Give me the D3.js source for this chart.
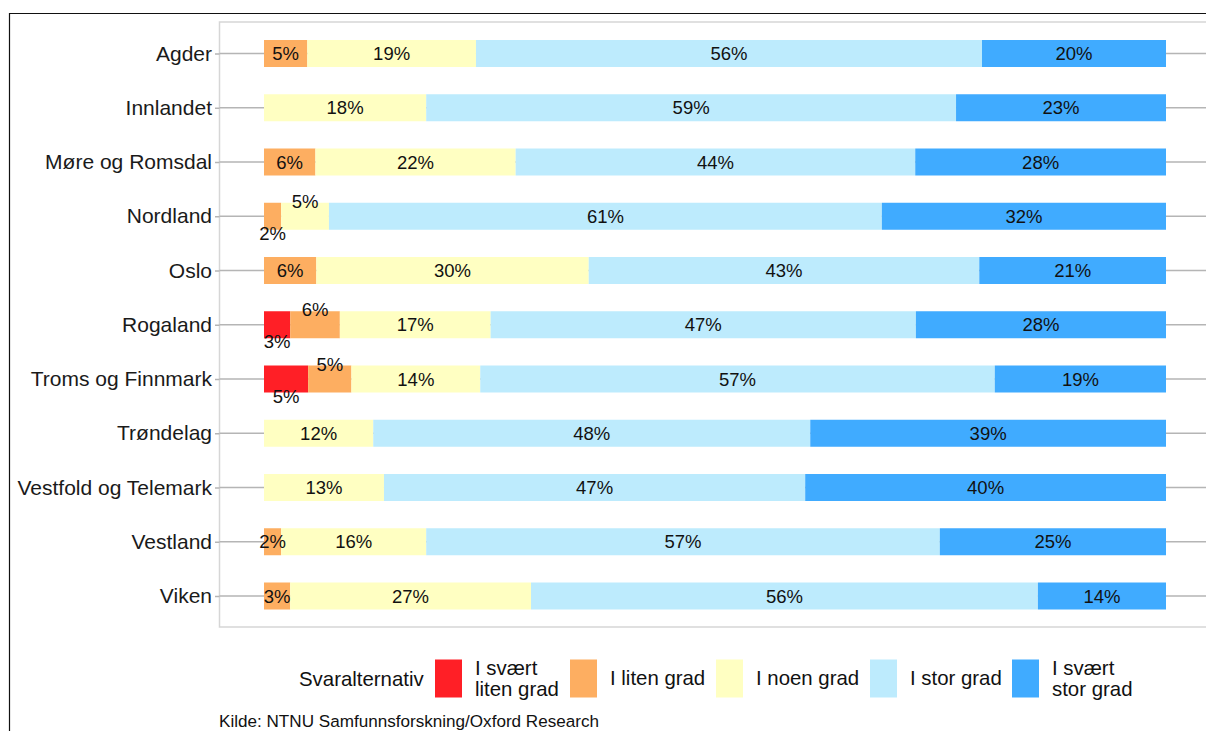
<!DOCTYPE html>
<html><head><meta charset="utf-8">
<script src="https://cdn.jsdelivr.net/npm/d3@7"></script>
<style>html,body{margin:0;background:#fff;overflow:hidden}svg{display:block;font-family:"Liberation Sans",Arial,sans-serif}</style>
</head><body><svg id="c" width="1206" height="731"></svg>
<script>
const categories = ["Agder","Innlandet","Møre og Romsdal","Nordland","Oslo","Rogaland","Troms og Finnmark","Trøndelag","Vestfold og Telemark","Vestland","Viken"];
const seriesNames = ["I svært liten grad","I liten grad","I noen grad","I stor grad","I svært stor grad"];
const legendLabels = [["I svært","liten grad"],["I liten grad"],["I noen grad"],["I stor grad"],["I svært","stor grad"]];
const vSvaertLiten = [0,0,0,0,0,2.9,4.9,0,0,0,0];
const vLiten      = [4.8,0,5.7,1.9,5.8,5.5,4.8,0,0,1.9,2.9];
const vNoen       = [18.7,18.0,22.2,5.3,30.2,16.7,14.3,12.1,13.3,16.1,26.7];
const vStor       = [56.1,58.8,44.3,61.3,43.3,47.1,57.1,48.4,46.7,57.0,56.2];
const vSvaertStor = [20.4,23.3,27.8,31.5,20.7,27.7,19.0,39.4,40.0,25.1,14.2];
const colors = ["#ff1f26","#fdae61","#ffffc2","#bdebfd","#40abff"];
const legendTitle = "Svaralternativ";
const caption = "Kilde: NTNU Samfunnsforskning/Oxford Research";

const svg = d3.select("#c");
const allVals = [vSvaertLiten,vLiten,vNoen,vStor,vSvaertStor];
const rows = categories.map((c,i)=>{const o={cat:c};seriesNames.forEach((s,k)=>o[s]=allVals[k][i]);return o;});
const stack = d3.stack().keys(seriesNames).offset(d3.stackOffsetExpand)(rows);

// outer border (left and top edges only visible)
svg.append("path").attr("d","M9.5,731V13.5H1206").attr("fill","none").attr("stroke","#111").attr("stroke-width",1.2);

const panel = {left:219.5, top:22, bottom:627, right:1206};
const x = d3.scaleLinear().domain([0,1]).range([264,1166]);
const y = d3.scalePoint().domain(categories).range([53.5,596]);
const barH = 27;

svg.append("path").attr("d",`M${panel.right},${panel.top}H${panel.left}V${panel.bottom}H${panel.right}`)
  .attr("fill","none").attr("stroke","#d6d6d6").attr("stroke-width",1.5);

// grid lines
svg.append("g").selectAll("line").data(categories).join("line")
  .attr("x1",panel.left).attr("x2",panel.right).attr("y1",d=>y(d)).attr("y2",d=>y(d))
  .attr("stroke","#b5b5b5").attr("stroke-width",1.5);

// y axis
const yAxis = d3.axisLeft(y).tickSize(4.5).tickPadding(3);
const gy = svg.append("g").attr("transform",`translate(${panel.left},0)`).call(yAxis);
gy.select(".domain").remove();
gy.selectAll(".tick line").attr("stroke","#b5b5b5").attr("stroke-width",1.5);
gy.selectAll(".tick text").attr("font-size",21).attr("fill","#1a1a1a").attr("font-family","Liberation Sans, Arial, sans-serif");

// bars
const gBars = svg.append("g");
stack.forEach((layer,k)=>{
  gBars.selectAll(null).data(layer.filter(d=>d[1]-d[0]>0)).join("rect")
    .attr("x",d=>x(d[0])).attr("width",d=>x(d[1])-x(d[0]))
    .attr("y",d=>y(d.data.cat)-barH/2).attr("height",barH)
    .attr("fill",colors[k]);
});

// labels
const gLab = svg.append("g");
rows.forEach((r,i)=>{
  stack.forEach((layer,k)=>{
    const d = layer[i]; const v = r[seriesNames[k]];
    if(!(v>0)) return;
    let dy = 0;
    const next = k<4 ? r[seriesNames[k+1]] : 0;
    const prev = k>0 ? r[seriesNames[k-1]] : 0;
    if(v<7 && next>0 && next<7) dy = 17;
    else if(v<7 && prev>0 && prev<7) dy = -15;
    gLab.append("text").attr("x",(x(d[0])+x(d[1]))/2).attr("y",y(r.cat)+dy)
      .attr("dy","0.36em").attr("text-anchor","middle").attr("font-size",18.5).attr("fill","#111")
      .text(Math.round(v)+"%");
  });
});

// legend
const lg = svg.append("g");
lg.append("text").attr("x",299).attr("y",686).attr("font-size",20.4).attr("fill","#111").text(legendTitle);
const keyX = [435,570,716,870,1012];
seriesNames.forEach((s,k)=>{
  lg.append("rect").attr("x",keyX[k]).attr("y",659.5).attr("width",27).attr("height",38).attr("fill",colors[k]);
  const lines = legendLabels[k];
  const t = lg.append("text").attr("x",keyX[k]+40).attr("font-size",20.4).attr("fill","#111");
  if(lines.length===1) t.attr("y",685).text(lines[0]);
  else lines.forEach((l,j)=>t.append("tspan").attr("x",keyX[k]+40).attr("y",675+j*21).text(l));
});

svg.append("text").attr("x",219).attr("y",727).attr("font-size",17.1).attr("fill","#111").text(caption);
</script></body></html>
